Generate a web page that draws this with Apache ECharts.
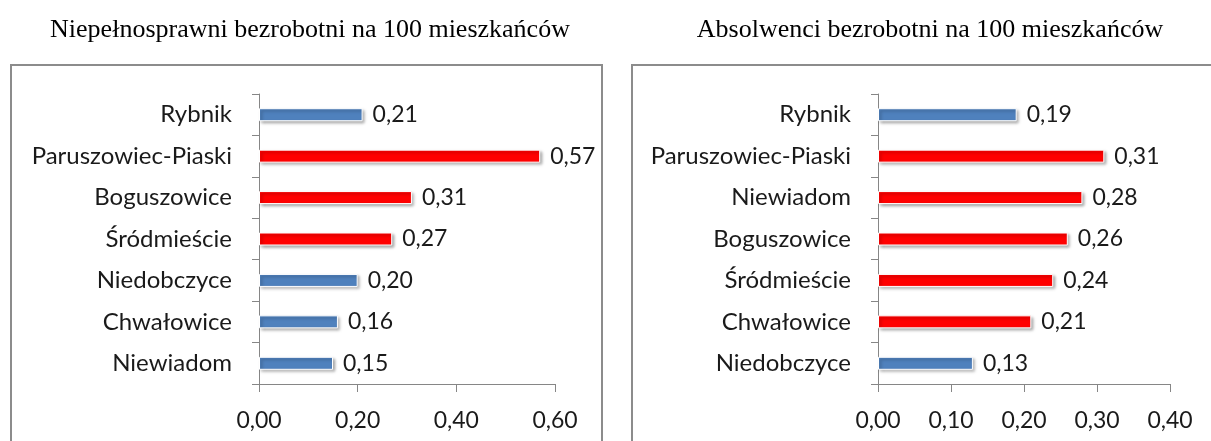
<!DOCTYPE html>
<html>
<head>
<meta charset="utf-8">
<script src="https://cdn.jsdelivr.net/npm/echarts@6/dist/echarts.min.js"></script>
<style>
  html, body { margin: 0; padding: 0; background: #fff; }
  #chart { width: 1211px; height: 441px; }
</style>
</head>
<body>
<div id="chart"></div>
<script>
// dane - lewy wykres
const leftTitle = 'Niepełnosprawni bezrobotni na 100 mieszkańców';
const leftCategories = ['Rybnik', 'Paruszowiec-Piaski', 'Boguszowice', 'Śródmieście', 'Niedobczyce', 'Chwałowice', 'Niewiadom'];
const leftValues = [0.21, 0.57, 0.31, 0.27, 0.20, 0.16, 0.15];
const leftTicks = [0, 0.2, 0.4, 0.6];

// dane - prawy wykres
const rightTitle = 'Absolwenci bezrobotni na 100 mieszkańców';
const rightCategories = ['Rybnik', 'Paruszowiec-Piaski', 'Niewiadom', 'Boguszowice', 'Śródmieście', 'Chwałowice', 'Niedobczyce'];
const rightValues = [0.19, 0.31, 0.28, 0.26, 0.24, 0.21, 0.13];
const rightTicks = [0, 0.1, 0.2, 0.3, 0.4];

const BLUE = '#4F81BD';
const RED = '#FF0000';
const labelFont = 'Lato, "Open Sans", sans-serif';
const fmt = v => v.toFixed(2).replace('.', ',');

// dzielnice powyżej wartości dla Rybnika na czerwono
const barData = (values) => values.map((v, i) => ({
  value: v,
  itemStyle: { color: (i > 0 && v > values[0]) ? RED : BLUE }
}));

const axisGray = '#868686';

const makeGrid = (left, width) => ({ left: left, top: 94, width: width, height: 290 });

const makeX = (idx, ticks) => ({
  type: 'value',
  gridIndex: idx,
  min: ticks[0],
  max: ticks[ticks.length - 1],
  interval: ticks[1] - ticks[0],
  splitLine: { show: false },
  axisLine: { show: true, lineStyle: { color: axisGray, width: 1 } },
  axisTick: { show: true, length: 8, lineStyle: { color: axisGray } },
  axisLabel: { margin: 25, fontFamily: labelFont, fontSize: 23, color: '#1a1a1a', formatter: fmt }
});

const makeY = (idx, cats) => ({
  type: 'category',
  gridIndex: idx,
  data: cats,
  inverse: true,
  axisLine: { show: true, lineStyle: { color: axisGray, width: 1 } },
  axisTick: { show: true, length: 7, lineStyle: { color: axisGray } },
  axisLabel: { margin: 27, fontFamily: labelFont, fontSize: 24, color: '#1a1a1a' }
});

const makeSeries = (idx, values) => ({
  type: 'bar',
  xAxisIndex: idx,
  yAxisIndex: idx,
  barWidth: 13,
  data: barData(values),
  itemStyle: {
    borderColor: '#fff',
    borderWidth: 1,
    shadowColor: 'rgba(0,0,0,0.35)',
    shadowBlur: 3,
    shadowOffsetX: 2,
    shadowOffsetY: 2
  },
  label: {
    show: true,
    position: 'right',
    distance: 10,
    fontFamily: labelFont,
    fontSize: 23,
    color: '#1a1a1a',
    formatter: p => fmt(p.value)
  },
  silent: true
});

const chart = echarts.init(document.getElementById('chart'));
chart.setOption({
  animation: false,
  title: [
    { text: leftTitle, left: 305, top: 12, textAlign: 'center',
      textStyle: { fontFamily: '"Liberation Serif", serif', fontSize: 26, fontWeight: 'normal', color: '#000' } },
    { text: rightTitle, left: 925, top: 12, textAlign: 'center',
      textStyle: { fontFamily: '"Liberation Serif", serif', fontSize: 26, fontWeight: 'normal', color: '#000' } }
  ],
  graphic: [
    { type: 'rect', shape: { x: 11, y: 65, width: 591, height: 400 },
      style: { fill: 'none', stroke: '#8c8c8c', lineWidth: 2 }, z: -1 },
    { type: 'rect', shape: { x: 632, y: 65, width: 600, height: 400 },
      style: { fill: 'none', stroke: '#8c8c8c', lineWidth: 2 }, z: -1 }
  ],
  grid: [makeGrid(259, 296), makeGrid(878, 292)],
  xAxis: [makeX(0, leftTicks), makeX(1, rightTicks)],
  yAxis: [makeY(0, leftCategories), makeY(1, rightCategories)],
  series: [makeSeries(0, leftValues), makeSeries(1, rightValues)]
});
</script>
</body>
</html>
